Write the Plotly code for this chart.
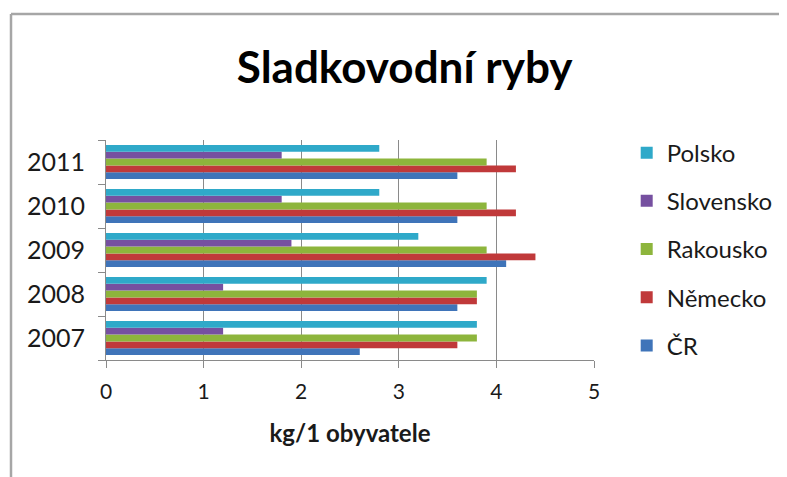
import plotly.graph_objects as go

years = ["2007", "2008", "2009", "2010", "2011"]

# kg per capita
cr = [2.6, 3.6, 4.1, 3.6, 3.6]
nemecko = [3.6, 3.8, 4.4, 4.2, 4.2]
rakousko = [3.8, 3.8, 3.9, 3.9, 3.9]
slovensko = [1.2, 1.2, 1.9, 1.8, 1.8]
polsko = [3.8, 3.9, 3.2, 2.8, 2.8]

series = [
    ("ČR", cr, "#3f74b9"),
    ("Německo", nemecko, "#c0393a"),
    ("Rakousko", rakousko, "#8db53c"),
    ("Slovensko", slovensko, "#7650a0"),
    ("Polsko", polsko, "#2fa9c9"),
]

FONT = "Lato"
GRID = "#8a8a8a"

fig = go.Figure()
for i, (name, vals, color) in enumerate(series):
    fig.add_trace(
        go.Bar(
            y=years,
            x=vals,
            name=name,
            orientation="h",
            legendgroup=name,
            legendrank=len(series) - i,
            marker=dict(color=color, line=dict(width=0)),
        )
    )

# page body adds an 8px offset, so the figure is laid out 8px up/left
fig.update_layout(
    width=787,
    height=477,
    margin=dict(l=98, r=201, t=132, b=125),
    paper_bgcolor="white",
    plot_bgcolor="white",
    barmode="group",
    bargap=0.23,
    bargroupgap=0,
    font=dict(family=FONT, color="#1a1a1a"),
    title=dict(
        text="<b>Sladkovodní ryby</b>",
        x=0.504,
        xanchor="center",
        y=1 - 60 / 477,
        yanchor="middle",
        font=dict(size=44, family=FONT, color="black"),
    ),
    legend=dict(
        x=1.067,
        xanchor="left",
        y=1.043,
        yanchor="top",
        traceorder="grouped",
        tracegroupgap=14,
        font=dict(size=24, family=FONT, color="#1a1a1a"),
        bgcolor="rgba(0,0,0,0)",
    ),
)

fig.update_xaxes(
    range=[0, 5],
    dtick=1,
    automargin=False,
    showgrid=True,
    gridcolor=GRID,
    gridwidth=1,
    zeroline=False,
    showline=True,
    linecolor=GRID,
    linewidth=1,
    ticks="outside",
    ticklen=7,
    tickcolor=GRID,
    ticklabelstandoff=6,
    tickfont=dict(size=21, family=FONT, color="#1a1a1a"),
    title=dict(
        text="<b>kg/1 obyvatele</b>",
        font=dict(size=24, family=FONT, color="#1a1a1a"),
        standoff=22,
    ),
)

fig.update_yaxes(
    type="category",
    categoryorder="array",
    categoryarray=years,
    automargin=False,
    showgrid=False,
    showline=True,
    linecolor=GRID,
    linewidth=1,
    ticks="outside",
    tickson="boundaries",
    ticklen=7,
    tickcolor=GRID,
    ticklabelstandoff=15,
    tickfont=dict(size=25, family=FONT, color="#1a1a1a"),
)

# outer chart frame: only its left and top edges are visible in the reference
frame_left = (3 - 98) / 488
frame_top = (352 - 6) / 220
fig.add_shape(
    type="line", xref="paper", yref="paper",
    x0=frame_left, x1=frame_left, y0=(352 - 600) / 220, y1=frame_top,
    line=dict(color="#a6a6a6", width=2.5), layer="below",
)
fig.add_shape(
    type="line", xref="paper", yref="paper",
    x0=frame_left, x1=(950 - 98) / 488, y0=frame_top, y1=frame_top,
    line=dict(color="#a6a6a6", width=2.5), layer="below",
)

fig.write_html("out.html")
